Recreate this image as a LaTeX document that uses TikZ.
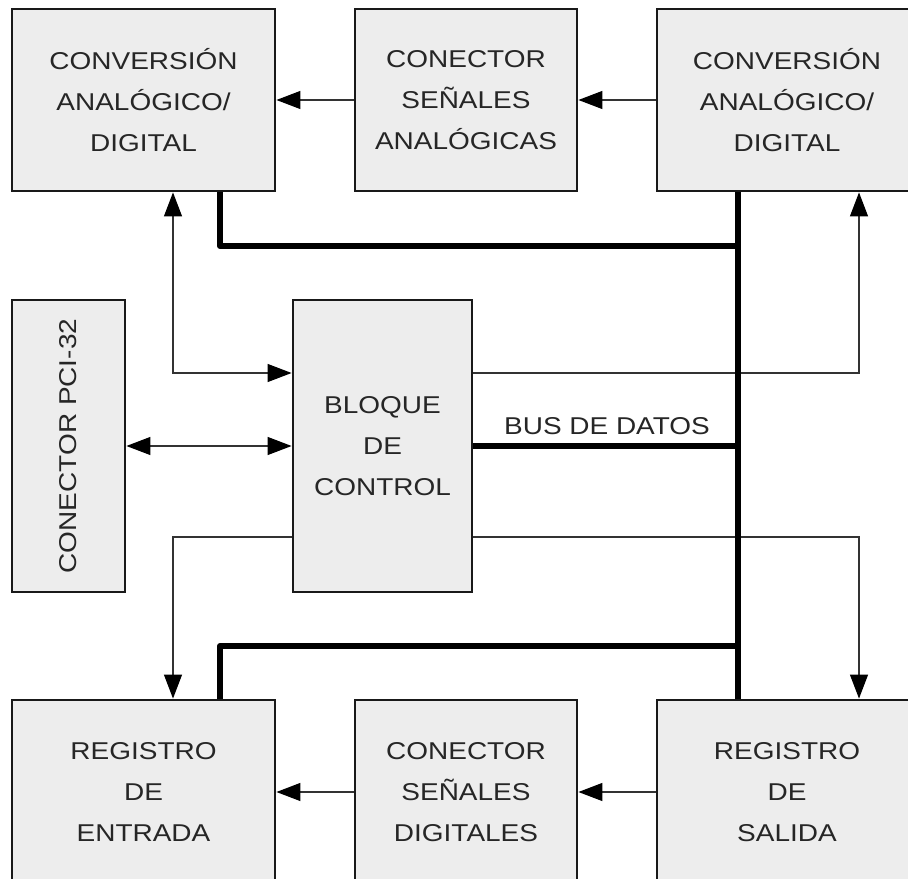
\documentclass[tikz,border=0pt]{standalone}
\usepackage{fontspec}
\setmainfont{Liberation Sans}[FakeStretch=1.15]
\usetikzlibrary{arrows.meta}
\begin{document}
\begin{tikzpicture}[x=0.025cm,y=-0.025cm,
    blk/.style={draw=black!90,line width=2pt,fill=black!7,align=center,
      inner sep=0pt,text=black!85,font={\fontsize{17.3pt}{29pt}\selectfont}},
    sig/.style={draw=black!80,line width=0.9pt},
    arr/.style={sig,-{Triangle[length=0.6cm,width=0.45cm,color=black]}},
    darr/.style={sig,{Triangle[length=0.6cm,width=0.45cm,color=black]}-{Triangle[length=0.6cm,width=0.45cm,color=black]}},
    bus/.style={draw=black,line width=4.3pt,line join=round}]
    \path[use as bounding box,clip] (0,0) rectangle (908,879);
    \node[blk,minimum width=6.575cm,minimum height=4.55cm] (adcl) at (143.5,100) {CONVERSIÓN\\ANALÓGICO/\\DIGITAL};
    \node[blk,minimum width=5.55cm,minimum height=4.55cm] (conan) at (466,100) {CONECTOR\\SEÑALES\\ANALÓGICAS};
    \node[blk,minimum width=6.5cm,minimum height=4.55cm] (adcr) at (787,100) {CONVERSIÓN\\ANALÓGICO/\\DIGITAL};
    \node[blk,rotate=90,minimum width=7.3cm,minimum height=2.825cm] (pci) at (68.5,446) {CONECTOR PCI-32};
    \node[blk,minimum width=4.475cm,minimum height=7.3cm] (ctrl) at (382.5,446) {BLOQUE\\DE\\CONTROL};
    \node[blk,minimum width=6.575cm,minimum height=4.6cm] (regin) at (143.5,792) {REGISTRO\\DE\\ENTRADA};
    \node[blk,minimum width=5.55cm,minimum height=4.6cm] (condig) at (466,792) {CONECTOR\\SEÑALES\\DIGITALES};
    \node[blk,minimum width=6.5cm,minimum height=4.6cm] (regout) at (787,792) {REGISTRO\\DE\\SALIDA};
    \coordinate (ua) at (173,373);
    \coordinate (la) at (173,537);
    \coordinate (ub) at (859,373);
    \coordinate (lb) at (859,537);
    \coordinate (bx) at (738,446);
    \coordinate (t1) at (220,246);
    \coordinate (t2) at (220,646);
    \draw[arr] (conan) -- (adcl);
    \draw[arr] (adcr) -- (conan);
    \draw[arr] (condig) -- (regin);
    \draw[arr] (regout) -- (condig);
    \draw[darr] (pci) -- (ctrl);
    \draw[darr] (ua |- adcl.south) -- (ua) -- (ua -| ctrl.west);
    \draw[arr] (la -| ctrl.west) -- (la) -- (la |- regin.north);
    \draw[arr] (ub -| ctrl.east) -- (ub) -- (ub |- adcr.south);
    \draw[arr] (lb -| ctrl.east) -- (lb) -- (lb |- regout.north);
    % bus de datos
    \draw[bus] (bx |- adcr.south) -- (bx |- regout.north);
    \draw[bus] (t1 |- adcl.south) -- (t1) -- (t1 -| bx);
    \draw[bus] (t2 |- regin.north) -- (t2) -- (t2 -| bx);
    \draw[bus] (ctrl.east) -- (bx);
    \node[text=black!85,font={\fontsize{17.3pt}{29pt}\selectfont}] (lbl) at (607,426) {BUS DE DATOS};
\end{tikzpicture}
\end{document}
